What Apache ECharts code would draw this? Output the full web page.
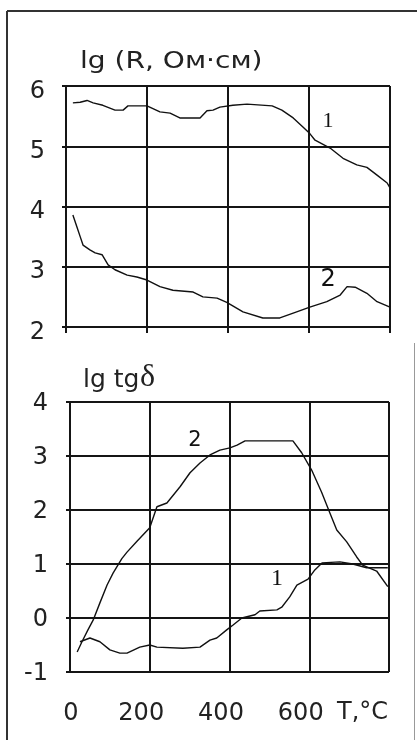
<!DOCTYPE html>
<html><head><meta charset="utf-8">
<script src="https://cdn.jsdelivr.net/npm/echarts@6/dist/echarts.min.js"></script>
<style>html,body{margin:0;padding:0;background:#fff}#c{width:417px;height:740px}</style>
</head><body><div id="c"></div>
<script>
// Top chart: lg R (Ohm*cm) vs T
const xTicks = [0, 200, 400, 600, 800];
const topYTicks = [2, 3, 4, 5, 6];
const botYTicks = [-1, 0, 1, 2, 3, 4];

const topR1T = [17,35,52,67,91,121,141,153,200,232,257,281,331,348,363,380,412,447,509,533,561,585,602,615,652,684,718,743,768,793,800];
const topR1V = [5.72,5.73,5.76,5.72,5.68,5.60,5.60,5.67,5.67,5.57,5.55,5.47,5.47,5.59,5.60,5.65,5.68,5.70,5.67,5.60,5.47,5.32,5.21,5.10,4.97,4.80,4.69,4.65,4.52,4.39,4.31];

const topR2T = [17,27,35,42,59,72,89,104,121,151,175,200,232,264,314,338,373,397,437,486,528,561,602,644,677,694,714,743,768,800];
const topR2V = [3.86,3.66,3.50,3.36,3.28,3.23,3.20,3.03,2.95,2.86,2.83,2.78,2.67,2.61,2.58,2.50,2.48,2.41,2.25,2.15,2.15,2.23,2.33,2.42,2.53,2.67,2.66,2.56,2.42,2.33];

// Bottom chart: lg tg delta vs T
const botD1T = [25,50,75,100,125,143,175,200,218,283,326,351,368,393,409,431,464,476,519,531,551,569,597,614,632,677,709,744,797];
const botD1V = [-0.44,-0.37,-0.44,-0.59,-0.65,-0.65,-0.54,-0.50,-0.54,-0.56,-0.54,-0.41,-0.37,-0.22,-0.13,0.00,0.06,0.13,0.15,0.20,0.39,0.61,0.72,0.89,1.02,1.04,1.00,0.93,0.93];

const botD2T = [18,30,45,58,75,93,108,130,143,168,200,218,243,276,301,326,351,376,401,419,439,559,581,606,631,652,669,694,719,734,769,797];
const botD2V = [-0.63,-0.44,-0.22,-0.04,0.28,0.61,0.83,1.10,1.22,1.42,1.67,2.06,2.13,2.43,2.69,2.87,3.02,3.11,3.15,3.20,3.28,3.28,3.06,2.74,2.33,1.94,1.63,1.41,1.13,0.98,0.87,0.58];

const pairs = (t, v) => t.map((x, i) => [x, v[i]]);
const LC = '#151515';
const FONT = 'DejaVu Sans';

function xAxis(gi, showLabels) {
  return {
    type: 'value', gridIndex: gi, min: xTicks[0], max: xTicks[xTicks.length-1], interval: 200,
    axisLine: {show: true, lineStyle: {color: LC, width: 2}},
    axisTick: {show: !showLabels, length: 6, lineStyle: {color: LC, width: 2}},
    splitLine: {show: true, lineStyle: {color: LC, width: 2}},
    axisLabel: showLabels ? {
      show: true, margin: 30, color: '#222', fontFamily: FONT, fontSize: 24,
      formatter: v => v === 800 ? '' : (v === 0 ? '{a|0}' : '{b|' + v + '}'),
      rich: {a: {fontFamily: FONT, fontSize: 24, color: '#222', padding: [0, 0, 0, 2]},
             b: {fontFamily: FONT, fontSize: 24, color: '#222', padding: [0, 17, 0, 0]}}
    } : {show: false}
  };
}
function yAxis(gi, ticks, margin, padTop) {
  return {
    type: 'value', gridIndex: gi, min: ticks[0], max: ticks[ticks.length-1], interval: 1,
    axisLine: {show: true, lineStyle: {color: LC, width: 2}},
    axisTick: {show: true, length: 4, lineStyle: {color: LC, width: 2}},
    splitLine: {show: true, lineStyle: {color: LC, width: 2}},
    axisLabel: {margin: margin, color: '#222', fontFamily: FONT, fontSize: 24,
      formatter: v => '{n|' + v + '}',
      rich: {n: {fontFamily: FONT, fontSize: 24, color: '#222', padding: [padTop, 0, 0, 0]}}}
  };
}
function lbl(coord, text, family, size) {
  return {coord: coord, symbol: 'circle', symbolSize: 0,
    label: {show: true, position: 'inside', formatter: text, fontFamily: family, fontSize: size, color: '#111'}};
}
function line(xi, yi, data, mp) {
  return {type: 'line', xAxisIndex: xi, yAxisIndex: yi, data: data, showSymbol: false, symbol: 'none',
    lineStyle: {color: '#111', width: 1.4}, animation: false,
    markPoint: {data: mp, animation: false}};
}

const chart = echarts.init(document.getElementById('c'), null, {renderer: 'canvas'});
chart.setOption({
  animation: false,
  backgroundColor: '#fff',
  grid: [
    {left: 66, top: 86, width: 324, height: 241},
    {left: 70, top: 402, width: 319, height: 270}
  ],
  xAxis: [xAxis(0, false), xAxis(1, true)],
  yAxis: [yAxis(0, topYTicks, 21, 11), yAxis(1, botYTicks, 22, 3)],
  series: [
    line(0, 0, pairs(topR1T, topR1V), [lbl([647, 5.42], '1', 'Liberation Serif', 22)]),
    line(0, 0, pairs(topR2T, topR2V), [lbl([647, 2.78], '2', FONT, 24)]),
    line(1, 1, pairs(botD1T, botD1V), [lbl([519, 0.72], '1', 'Liberation Serif', 24)]),
    line(1, 1, pairs(botD2T, botD2V), [lbl([313, 3.28], '2', FONT, 21)])
  ],
  graphic: [
    {type: 'line', shape: {x1: 7, y1: 11, x2: 7, y2: 740}, style: {stroke: '#333', lineWidth: 2}},
    {type: 'line', shape: {x1: 7, y1: 11, x2: 417, y2: 11}, style: {stroke: '#333', lineWidth: 2}},
    {type: 'line', shape: {x1: 414.5, y1: 343, x2: 414.5, y2: 740}, style: {stroke: '#999', lineWidth: 1}},
    {type: 'text', x: 80, y: 62, scaleX: 1.22, originX: 0, originY: 0,
      style: {text: 'lg (R, Ом·см)', fontFamily: FONT, fontSize: 23, fill: '#222', verticalAlign: 'middle'}},
    {type: 'text', x: 83, y: 380, style: {text: 'lg tg', fontFamily: FONT, fontSize: 25, fill: '#222', verticalAlign: 'middle'}},
    {type: 'text', x: 140, y: 378, style: {text: 'δ', fontFamily: 'Liberation Serif', fontSize: 32, fill: '#222', verticalAlign: 'middle'}},
    {type: 'text', x: 337, y: 713,
      style: {text: 'T,°C', fontFamily: FONT, fontSize: 24, fill: '#222', verticalAlign: 'middle'}}
  ]
});
</script></body></html>
